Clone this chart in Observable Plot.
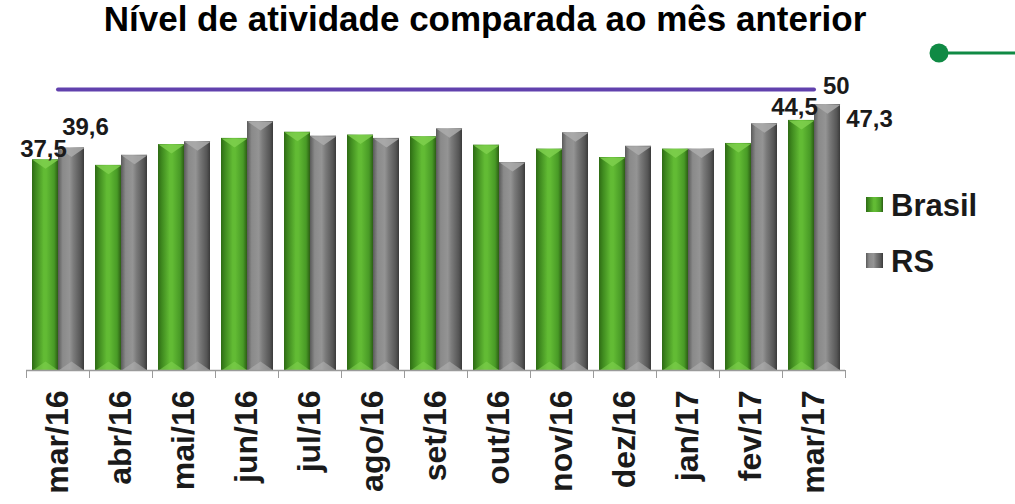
<!DOCTYPE html>
<html><head><meta charset="utf-8">
<script src="https://cdn.jsdelivr.net/npm/d3@7"></script>
<script src="https://cdn.jsdelivr.net/npm/@observablehq/plot@0.6"></script>
<style>
body{margin:0;background:#fff;}
#wrap{position:relative;width:1015px;height:504px;overflow:hidden;font-family:"Liberation Sans",Arial,sans-serif;color:#1a1a1a;}
#title{position:absolute;left:0;width:970px;top:-1px;text-align:center;font-weight:bold;font-size:35px;line-height:40px;color:#000;white-space:nowrap;}
#chart{position:absolute;left:0;top:0;}
.leg{position:absolute;left:866px;font-weight:bold;font-size:31px;line-height:31px;white-space:nowrap;}
.sw{display:inline-block;width:17px;height:15px;margin-right:8px;vertical-align:middle;position:relative;top:-3px;}
#deco{position:absolute;left:0;top:0;}
</style></head>
<body>
<div id="wrap">
  <div id="chart"></div>
  <div id="title">Nível de atividade comparada ao mês anterior</div>
  <div class="leg" id="legB" style="top:190px"></div>
  <div class="leg" id="legR" style="top:246px"></div>
  <svg id="deco" width="1015" height="504"><line x1="939" y1="53" x2="1015" y2="53" stroke="#108a44" stroke-width="3"/><circle cx="939" cy="53" r="9.5" fill="#108a44"/></svg>
</div>
<script>
const months = ["mar/16","abr/16","mai/16","jun/16","jul/16","ago/16","set/16","out/16","nov/16","dez/16","jan/17","fev/17","mar/17"];
const seriesNames = ["Brasil","RS"];
const brasil = [37.5,36.5,40.2,41.3,42.4,41.9,41.6,40.1,39.4,37.9,39.4,40.4,44.5];
const rs = [39.6,38.3,40.7,44.3,41.7,41.3,43.0,37.0,42.3,39.9,39.4,43.9,47.3];
const reference = 50;

const rowsB = months.map((m,i)=>({month:m, series:seriesNames[0], value:brasil[i]}));
const rowsR = months.map((m,i)=>({month:m, series:seriesNames[1], value:rs[i]}));
const fmt = v => v.toFixed(1).replace(".", ",");

const gradGreen = "linear-gradient(90deg,#2e6b14 0%,#3f8a1f 15%,#62bb34 45%,#62bb34 55%,#489a26 85%,#2c5e14 100%)";
const gradGray = "linear-gradient(90deg,#5a5a5a 0%,#8a8a8a 18%,#949494 45%,#7a7a7a 60%,#555 88%,#3a3a3a 100%)";

const defs = () => {
  const ns = "http://www.w3.org/2000/svg";
  const d = document.createElementNS(ns, "defs");
  d.innerHTML = `
  <linearGradient id="gB" x1="0" x2="1" y1="0" y2="0">
    <stop offset="0" stop-color="#2e6b14"/><stop offset="0.15" stop-color="#3f8a1f"/>
    <stop offset="0.45" stop-color="#62bb34"/><stop offset="0.55" stop-color="#62bb34"/>
    <stop offset="0.85" stop-color="#489a26"/><stop offset="1" stop-color="#2c5e14"/>
  </linearGradient>
  <linearGradient id="gR" x1="0" x2="1" y1="0" y2="0">
    <stop offset="0" stop-color="#5a5a5a"/><stop offset="0.18" stop-color="#8a8a8a"/>
    <stop offset="0.45" stop-color="#949494"/><stop offset="0.6" stop-color="#7a7a7a"/>
    <stop offset="0.88" stop-color="#555555"/><stop offset="1" stop-color="#3a3a3a"/>
  </linearGradient>`;
  return d;
};

const vTop = {draw(ctx){ctx.moveTo(-13,0);ctx.lineTo(13,0);ctx.lineTo(0,9);ctx.closePath();}};
const vBot = {draw(ctx){ctx.moveTo(-13,0);ctx.lineTo(13,0);ctx.lineTo(0,-9);ctx.closePath();}};

const bold = {fontWeight:"bold", fill:"#1a1a1a", fontFamily:"Liberation Sans, Arial, sans-serif"};

const chart = Plot.plot({
  width: 1015, height: 504,
  marginLeft: 26, marginRight: 170, marginTop: 89, marginBottom: 134,
  x: {domain: months, padding: 0, axis: null, label: null},
  y: {domain: [0, reference], axis: null},
  style: {background: "transparent", overflow: "visible"},
  marks: [
    defs,
    Plot.barY(rowsB, {x:"month", y:"value", fill:"url(#gB)", insetLeft:6, insetRight:31}),
    Plot.barY(rowsR, {x:"month", y:"value", fill:"url(#gR)", insetLeft:32, insetRight:5}),
    Plot.dot(rowsB, {x:"month", y:"value", dx:-12.5, symbol:vTop, fill:"#7fd04e", fillOpacity:0.85, stroke:"none"}),
    Plot.dot(rowsR, {x:"month", y:"value", dx:13.5, symbol:vTop, fill:"#ababab", fillOpacity:0.85, stroke:"none"}),
    Plot.dot(rowsB, {x:"month", y:()=>0, dx:-12.5, symbol:vBot, fill:"#7fd04e", fillOpacity:0.6, stroke:"none"}),
    Plot.dot(rowsR, {x:"month", y:()=>0, dx:13.5, symbol:vBot, fill:"#b0b0b0", fillOpacity:0.6, stroke:"none"}),
    Plot.ruleY([0], {stroke:"#9a9a9a", strokeWidth:1.5}),
    Plot.axisX({tickSize:8, dx:-31.5, tickFormat:()=>"", stroke:"#9a9a9a", label:null}),
    Plot.axisX([months[months.length-1]], {tickSize:8, dx:31.5, tickFormat:()=>"", stroke:"#9a9a9a", label:null}),
    Plot.axisX({tickSize:0, tickPadding:20, tickRotate:-90, fontSize:32, label:null, ...bold}),
    Plot.line([{month:months[0], v:reference},{month:months[months.length-1], v:reference}], {x:"month", y:"v", stroke:"#6141ad", strokeWidth:4, strokeLinecap:"round"}),
    Plot.text([reference], {x:()=>months[months.length-1], y:d=>d, text:d=>String(d), dx:9, dy:-3, textAnchor:"start", fontSize:24, ...bold}),
    Plot.text([rowsB[0]], {x:"month", y:"value", text:d=>fmt(d.value), dx:-14.5, dy:-10, fontSize:24, ...bold}),
    Plot.text([rowsR[0]], {x:"month", y:"value", text:d=>fmt(d.value), dx:27.5, dy:-21, fontSize:24, ...bold}),
    Plot.text([rowsB[rowsB.length-1]], {x:"month", y:"value", text:d=>fmt(d.value), dx:-19.5, dy:-13, fontSize:24, ...bold}),
    Plot.text([rowsR[rowsR.length-1]], {x:"month", y:"value", text:d=>fmt(d.value), dx:55.5, dy:15, fontSize:24, ...bold})
  ]
});
document.getElementById("chart").appendChild(chart);
document.getElementById("legB").innerHTML = `<span class="sw" style="background:${gradGreen}"></span>${seriesNames[0]}`;
document.getElementById("legR").innerHTML = `<span class="sw" style="background:${gradGray}"></span>${seriesNames[1]}`;
</script>
</body></html>
